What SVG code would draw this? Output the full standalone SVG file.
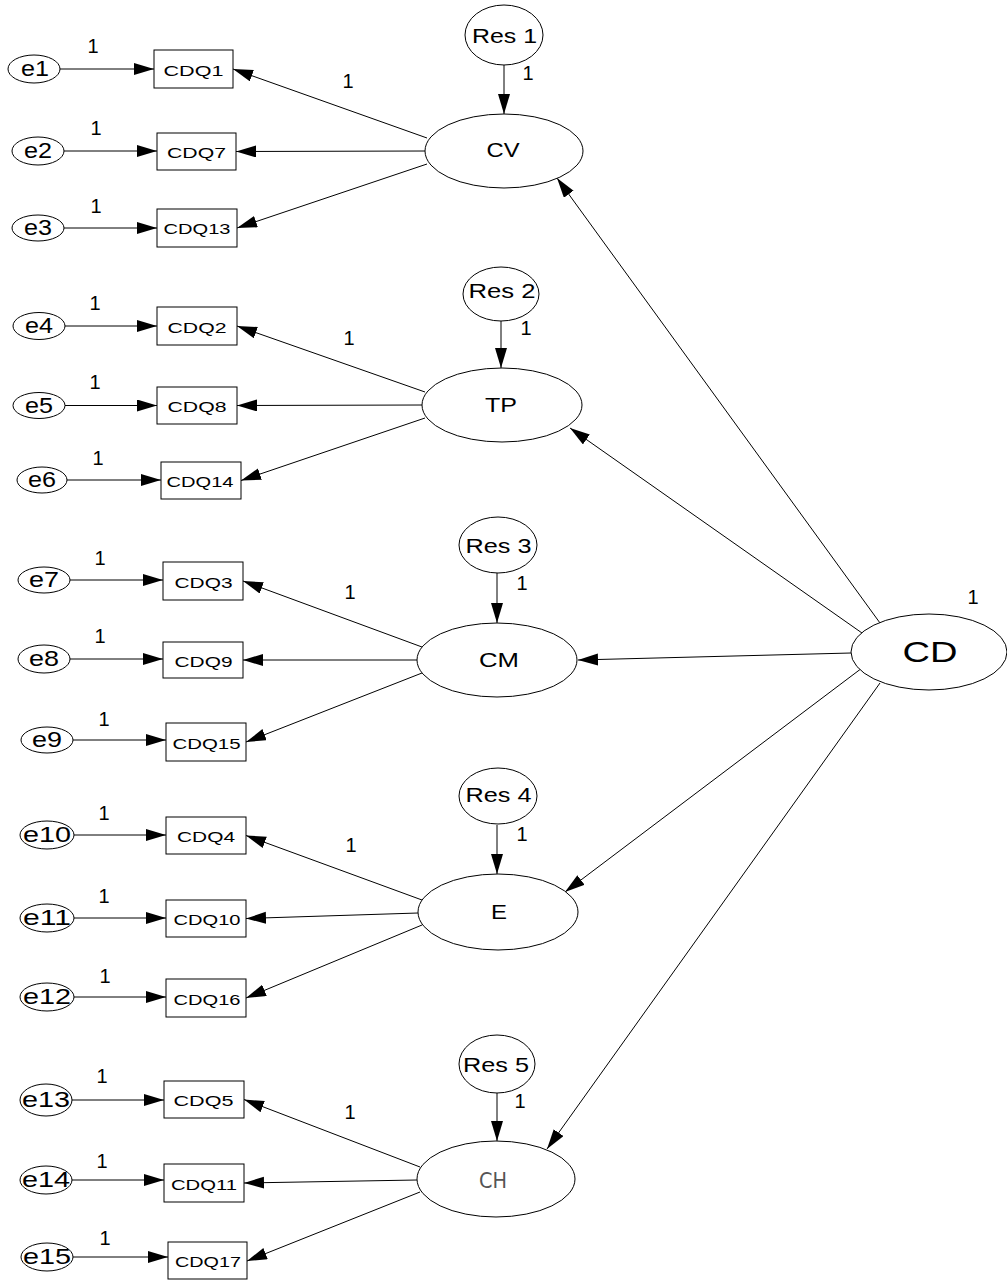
<svg xmlns="http://www.w3.org/2000/svg" width="1007" height="1280" viewBox="0 0 1007 1280">
<style>
  .sh { fill: #fff; stroke: #000; stroke-width: 1; }
  .t { font-family: "Liberation Sans", Arial, Helvetica, sans-serif; fill: #000; text-anchor: middle; }
  .e { font-size: 22px; }
  .q { font-size: 15px; }
  .f { font-size: 21px; }
  .n { font-size: 20px; }
  .ln { stroke: #000; stroke-width: 1; fill: none; marker-end: url(#ah); }
</style>
<defs>
  <marker id="ah" markerUnits="userSpaceOnUse" markerWidth="21" markerHeight="13" refX="20" refY="6" orient="auto">
    <path d="M0,0 L20,6 L0,12 Z" fill="#000"/>
  </marker>
</defs>
<rect width="1007" height="1280" fill="#fff"/>

<g id="connectors">
  <!-- error arrows -->
  <line class="ln" x1="60" y1="69" x2="154" y2="69"/>
  <line class="ln" x1="64" y1="151" x2="157" y2="151"/>
  <line class="ln" x1="64" y1="228" x2="157" y2="228"/>
  <line class="ln" x1="65" y1="326" x2="157" y2="326"/>
  <line class="ln" x1="65" y1="405.5" x2="157" y2="405.5"/>
  <line class="ln" x1="67" y1="480" x2="161" y2="480"/>
  <line class="ln" x1="70" y1="580" x2="163" y2="580"/>
  <line class="ln" x1="70" y1="659" x2="163" y2="659"/>
  <line class="ln" x1="73" y1="740" x2="166" y2="740"/>
  <line class="ln" x1="74" y1="835" x2="166" y2="835"/>
  <line class="ln" x1="74" y1="918" x2="166" y2="918"/>
  <line class="ln" x1="74" y1="997" x2="166" y2="997"/>
  <line class="ln" x1="72" y1="1100" x2="164" y2="1100"/>
  <line class="ln" x1="72" y1="1180" x2="164" y2="1180"/>
  <line class="ln" x1="73" y1="1257" x2="168" y2="1257"/>
  <!-- loadings -->
  <line class="ln" x1="427" y1="138" x2="233" y2="69"/>
  <line class="ln" x1="425" y1="151" x2="236" y2="151.5"/>
  <line class="ln" x1="427" y1="164" x2="237" y2="228"/>
  <line class="ln" x1="425" y1="392" x2="237" y2="326"/>
  <line class="ln" x1="422" y1="405" x2="237" y2="405.5"/>
  <line class="ln" x1="425" y1="418" x2="241" y2="480.5"/>
  <line class="ln" x1="422" y1="647" x2="243" y2="581"/>
  <line class="ln" x1="417" y1="660" x2="243" y2="660"/>
  <line class="ln" x1="422" y1="673" x2="246" y2="742"/>
  <line class="ln" x1="422" y1="900" x2="246" y2="835.5"/>
  <line class="ln" x1="418" y1="913" x2="246" y2="918.5"/>
  <line class="ln" x1="422" y1="925" x2="246" y2="998"/>
  <line class="ln" x1="420" y1="1167" x2="244" y2="1099.5"/>
  <line class="ln" x1="417" y1="1180" x2="244" y2="1183"/>
  <line class="ln" x1="420" y1="1192" x2="247" y2="1261"/>
  <!-- residuals -->
  <line class="ln" x1="504" y1="65" x2="504" y2="114"/>
  <line class="ln" x1="501" y1="321" x2="501" y2="368"/>
  <line class="ln" x1="497" y1="573" x2="497" y2="623"/>
  <line class="ln" x1="497" y1="825" x2="497" y2="874"/>
  <line class="ln" x1="497" y1="1093" x2="497" y2="1141"/>
  <!-- CD paths -->
  <line class="ln" x1="880" y1="623" x2="557" y2="178"/>
  <line class="ln" x1="862" y1="633" x2="570" y2="428"/>
  <line class="ln" x1="851" y1="653" x2="578" y2="660"/>
  <line class="ln" x1="862" y1="668" x2="565" y2="892"/>
  <line class="ln" x1="880" y1="683" x2="547" y2="1149"/>
  <!-- labels -->
  <g class="t n">
    <text x="93" y="53">1</text>
    <text x="96" y="135">1</text>
    <text x="96" y="213">1</text>
    <text x="95" y="310">1</text>
    <text x="95" y="389">1</text>
    <text x="98" y="465">1</text>
    <text x="100" y="565">1</text>
    <text x="100" y="643">1</text>
    <text x="104" y="726">1</text>
    <text x="104" y="820">1</text>
    <text x="104" y="903">1</text>
    <text x="105" y="983">1</text>
    <text x="102" y="1083">1</text>
    <text x="102" y="1168">1</text>
    <text x="105" y="1245">1</text>
    <text x="528" y="80">1</text>
    <text x="526" y="335">1</text>
    <text x="522" y="590">1</text>
    <text x="522" y="841">1</text>
    <text x="520" y="1108">1</text>
    <text x="348" y="88">1</text>
    <text x="349" y="345">1</text>
    <text x="350" y="599">1</text>
    <text x="351" y="852">1</text>
    <text x="350" y="1119">1</text>
    <text x="973" y="604">1</text>
  </g>
</g>

<!-- error terms -->
<g id="e1"><ellipse class="sh" cx="34" cy="69" rx="26" ry="14"/><text class="t e" x="35" y="76" textLength="28" lengthAdjust="spacingAndGlyphs">e1</text></g>
<g id="e2"><ellipse class="sh" cx="38" cy="151" rx="26" ry="14"/><text class="t e" x="38" y="158" textLength="28" lengthAdjust="spacingAndGlyphs">e2</text></g>
<g id="e3"><ellipse class="sh" cx="38" cy="228" rx="26" ry="13"/><text class="t e" x="38" y="235" textLength="28" lengthAdjust="spacingAndGlyphs">e3</text></g>
<g id="e4"><ellipse class="sh" cx="39" cy="326" rx="26" ry="13.5"/><text class="t e" x="39" y="333" textLength="28" lengthAdjust="spacingAndGlyphs">e4</text></g>
<g id="e5"><ellipse class="sh" cx="39" cy="405.5" rx="26" ry="13"/><text class="t e" x="39" y="412.5" textLength="28" lengthAdjust="spacingAndGlyphs">e5</text></g>
<g id="e6"><ellipse class="sh" cx="42" cy="480" rx="25" ry="13"/><text class="t e" x="42" y="487" textLength="28" lengthAdjust="spacingAndGlyphs">e6</text></g>
<g id="e7"><ellipse class="sh" cx="44" cy="580" rx="26" ry="13"/><text class="t e" x="44" y="587" textLength="30" lengthAdjust="spacingAndGlyphs">e7</text></g>
<g id="e8"><ellipse class="sh" cx="44" cy="659" rx="26" ry="14"/><text class="t e" x="44" y="666" textLength="30" lengthAdjust="spacingAndGlyphs">e8</text></g>
<g id="e9"><ellipse class="sh" cx="47" cy="740" rx="26" ry="13"/><text class="t e" x="47" y="747" textLength="30" lengthAdjust="spacingAndGlyphs">e9</text></g>
<g id="e10"><ellipse class="sh" cx="47" cy="835" rx="27" ry="14"/><text class="t e" x="47" y="842" textLength="48" lengthAdjust="spacingAndGlyphs">e10</text></g>
<g id="e11"><ellipse class="sh" cx="47" cy="918" rx="27" ry="14"/><text class="t e" x="47" y="925" textLength="48" lengthAdjust="spacingAndGlyphs">e11</text></g>
<g id="e12"><ellipse class="sh" cx="47" cy="997" rx="27" ry="14"/><text class="t e" x="47" y="1004" textLength="48" lengthAdjust="spacingAndGlyphs">e12</text></g>
<g id="e13"><ellipse class="sh" cx="46" cy="1100" rx="26" ry="16"/><text class="t e" x="46" y="1107" textLength="48" lengthAdjust="spacingAndGlyphs">e13</text></g>
<g id="e14"><ellipse class="sh" cx="46" cy="1180" rx="26" ry="14"/><text class="t e" x="46" y="1187" textLength="48" lengthAdjust="spacingAndGlyphs">e14</text></g>
<g id="e15"><ellipse class="sh" cx="47" cy="1257" rx="26" ry="14"/><text class="t e" x="47" y="1264" textLength="48" lengthAdjust="spacingAndGlyphs">e15</text></g>

<!-- observed items -->
<g id="CDQ1"><rect class="sh" x="154" y="50" width="79" height="38"/><text class="t q" x="193.5" y="75.5" textLength="60" lengthAdjust="spacingAndGlyphs">CDQ1</text></g>
<g id="CDQ7"><rect class="sh" x="157" y="133" width="79" height="37"/><text class="t q" x="196.5" y="158" textLength="59" lengthAdjust="spacingAndGlyphs">CDQ7</text></g>
<g id="CDQ13"><rect class="sh" x="157" y="209" width="80" height="38"/><text class="t q" x="197" y="234" textLength="67" lengthAdjust="spacingAndGlyphs">CDQ13</text></g>
<g id="CDQ2"><rect class="sh" x="157" y="307" width="80" height="38"/><text class="t q" x="197" y="332.5" textLength="59" lengthAdjust="spacingAndGlyphs">CDQ2</text></g>
<g id="CDQ8"><rect class="sh" x="157" y="387" width="80" height="37"/><text class="t q" x="197" y="412" textLength="59" lengthAdjust="spacingAndGlyphs">CDQ8</text></g>
<g id="CDQ14"><rect class="sh" x="161" y="462" width="80" height="37"/><text class="t q" x="200" y="487" textLength="67" lengthAdjust="spacingAndGlyphs">CDQ14</text></g>
<g id="CDQ3"><rect class="sh" x="163" y="562" width="80" height="38"/><text class="t q" x="203.5" y="587.5" textLength="58" lengthAdjust="spacingAndGlyphs">CDQ3</text></g>
<g id="CDQ9"><rect class="sh" x="163" y="642" width="80" height="36"/><text class="t q" x="203.5" y="666.5" textLength="58" lengthAdjust="spacingAndGlyphs">CDQ9</text></g>
<g id="CDQ15"><rect class="sh" x="166" y="723" width="80" height="38"/><text class="t q" x="206.5" y="748.5" textLength="68" lengthAdjust="spacingAndGlyphs">CDQ15</text></g>
<g id="CDQ4"><rect class="sh" x="166" y="817" width="80" height="37"/><text class="t q" x="206" y="842" textLength="58" lengthAdjust="spacingAndGlyphs">CDQ4</text></g>
<g id="CDQ10"><rect class="sh" x="166" y="900" width="80" height="37"/><text class="t q" x="207" y="925" textLength="67" lengthAdjust="spacingAndGlyphs">CDQ10</text></g>
<g id="CDQ16"><rect class="sh" x="166" y="979" width="80" height="38"/><text class="t q" x="207" y="1004.5" textLength="67" lengthAdjust="spacingAndGlyphs">CDQ16</text></g>
<g id="CDQ5"><rect class="sh" x="164" y="1081" width="80" height="37"/><text class="t q" x="203.5" y="1106" textLength="60" lengthAdjust="spacingAndGlyphs">CDQ5</text></g>
<g id="CDQ11"><rect class="sh" x="164" y="1164" width="80" height="38"/><text class="t q" x="204" y="1189.5" textLength="66" lengthAdjust="spacingAndGlyphs">CDQ11</text></g>
<g id="CDQ17"><rect class="sh" x="168" y="1242" width="79" height="37"/><text class="t q" x="208" y="1267" textLength="66" lengthAdjust="spacingAndGlyphs">CDQ17</text></g>

<!-- residuals -->
<g id="Res1"><ellipse class="sh" cx="504" cy="35" rx="39" ry="30"/><text class="t f" x="504.5" y="43" textLength="65" lengthAdjust="spacingAndGlyphs">Res 1</text></g>
<g id="Res2"><ellipse class="sh" cx="501" cy="294" rx="38" ry="27"/><text class="t f" x="502" y="298" textLength="67" lengthAdjust="spacingAndGlyphs">Res 2</text></g>
<g id="Res3"><ellipse class="sh" cx="498" cy="545" rx="39" ry="28"/><text class="t f" x="498.5" y="553" textLength="66" lengthAdjust="spacingAndGlyphs">Res 3</text></g>
<g id="Res4"><ellipse class="sh" cx="498" cy="796" rx="39" ry="28"/><text class="t f" x="498.5" y="802" textLength="66" lengthAdjust="spacingAndGlyphs">Res 4</text></g>
<g id="Res5"><ellipse class="sh" cx="497" cy="1064" rx="38" ry="29"/><text class="t f" x="496" y="1072" textLength="66" lengthAdjust="spacingAndGlyphs">Res 5</text></g>

<!-- latent factors -->
<g id="CV"><ellipse class="sh" cx="504" cy="151" rx="79" ry="37"/><text class="t f" x="503" y="157" textLength="33" lengthAdjust="spacingAndGlyphs">CV</text></g>
<g id="TP"><ellipse class="sh" cx="502" cy="405" rx="80" ry="37"/><text class="t f" x="501" y="412" textLength="32" lengthAdjust="spacingAndGlyphs">TP</text></g>
<g id="CM"><ellipse class="sh" cx="497" cy="660" rx="80" ry="37"/><text class="t f" x="499" y="667" textLength="40" lengthAdjust="spacingAndGlyphs">CM</text></g>
<g id="E"><ellipse class="sh" cx="498" cy="912" rx="80" ry="38"/><text class="t f" x="499" y="919" textLength="16" lengthAdjust="spacingAndGlyphs">E</text></g>
<g id="CH"><ellipse class="sh" cx="496" cy="1179" rx="79" ry="38"/><text x="493" y="1188" text-anchor="middle" font-family="'DejaVu Sans', Verdana, sans-serif" font-size="21" fill="#555" textLength="28" lengthAdjust="spacingAndGlyphs">CH</text></g>
<g id="CD"><ellipse class="sh" cx="929" cy="652" rx="78" ry="38"/><text class="t" x="930" y="662" font-size="30" textLength="55" lengthAdjust="spacingAndGlyphs">CD</text></g>
</svg>
